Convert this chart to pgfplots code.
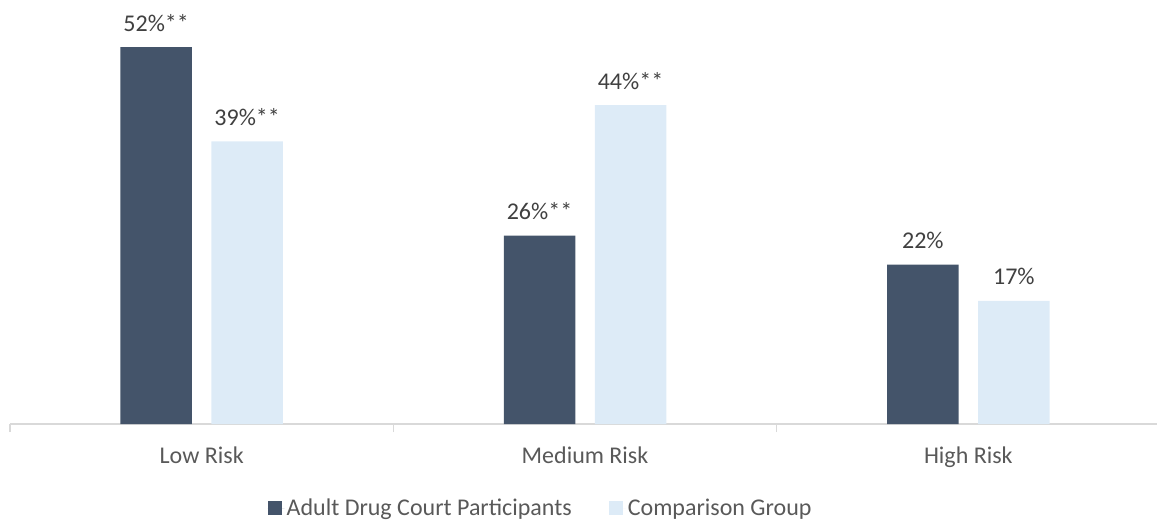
\documentclass[border=0pt]{standalone}
\usepackage{pgfplots}
\pgfplotsset{compat=1.18}
\usepackage{pgfplotstable}
\usepackage{fontspec}
\setmainfont{Carlito}
\definecolor{darkbar}{HTML}{44546A}
\definecolor{lightbar}{HTML}{DDEBF7}
\definecolor{axisgrey}{HTML}{D9D9D9}
\definecolor{labelgrey}{HTML}{404040}
\definecolor{textgrey}{HTML}{595959}

\pgfplotstableread{
x val lab
0 52 {52\%**}
1 26 {26\%**}
2 22 {22\%}
}\participants
\pgfplotstableread{
x val lab
0 39 {39\%**}
1 44 {44\%**}
2 17 {17\%}
}\comparison

\begin{document}
\begin{tikzpicture}
\begin{axis}[
  at={(10pt,101pt)}, anchor=south west,
  scale only axis,
  width=1150pt, height=420.5pt,
  xmin=-0.5, xmax=2.5,
  ymin=0, ymax=58,
  axis y line=none,
  axis x line*=bottom,
  x axis line style={axisgrey, line width=1.3pt, -},
  xtick={0,1,2},
  xticklabels={Low Risk, Medium Risk, High Risk},
  major tick length=0pt,
  extra x ticks={-0.5,0.5,1.5},
  extra x tick labels={},
  extra x tick style={major tick length=8pt, tick style={axisgrey, line width=1.3pt}, tick align=outside},
  xticklabel style={font=\fontsize{24}{28}\selectfont, text=textgrey, yshift=-19pt},
  ybar, bar width=71.5pt,
  clip=false,
  point meta=explicit symbolic,
  nodes near coords,
  every node near coord/.append style={font=\fontsize{24}{28}\selectfont, text=labelgrey, anchor=base, yshift=16pt},
  legend style={at={(0.4614,-0.2)}, anchor=center, draw=none, fill=none,
    font=\fontsize{24}{28}\selectfont, text=textgrey, legend columns=2,
    /tikz/every even column/.append style={column sep=35pt}},
  legend image code/.code={\fill[#1] (0pt,-7pt) rectangle (14pt,7pt); \path (0pt,0pt) -- (17pt,0pt);},
]
\addplot[fill=darkbar, draw=none, bar shift=-45.5pt] table[x=x, y=val, meta=lab] {\participants};
\addlegendentry{Adult Drug Court Participants}
\addplot[fill=lightbar, draw=none, bar shift=45.5pt] table[x=x, y=val, meta=lab] {\comparison};
\addlegendentry{Comparison Group}
\end{axis}
\pgfresetboundingbox
\path[use as bounding box] (0,0) rectangle (1157pt,525pt);
\end{tikzpicture}
\end{document}
